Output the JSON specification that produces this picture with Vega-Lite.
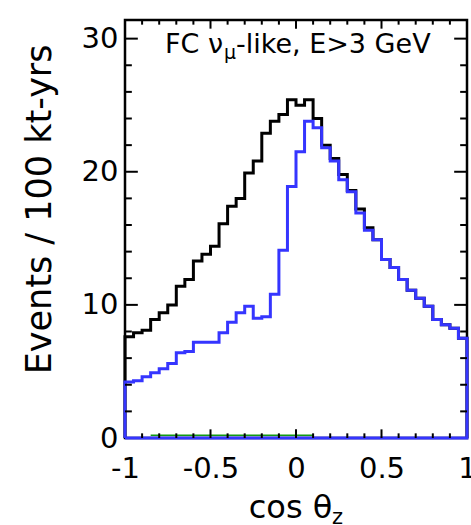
{
  "$schema": "https://vega.github.io/schema/vega-lite/v6.json",
  "width": 342,
  "height": 418,
  "autosize": "none",
  "padding": {"left": 125, "top": 20, "right": 4, "bottom": 87},
  "background": "white",
  "config": {
    "view": {"stroke": "black", "strokeWidth": 2.5},
    "font": "DejaVu Sans",
    "axis": {"grid": false, "domain": false, "ticks": false, "labelColor": "black", "titleColor": "black", "labelFont": "DejaVu Sans", "titleFont": "DejaVu Sans", "titleFontWeight": "normal", "labelOverlap": false, "labelFlush": false}
  },
  "datasets": {
    "hist": [
      {"s": "no osc", "i": 0, "x": -1, "v": 0},
      {"s": "no osc", "i": 1, "x": -1, "v": 7.6},
      {"s": "no osc", "i": 2, "x": -0.95, "v": 7.9},
      {"s": "no osc", "i": 3, "x": -0.9, "v": 8.1},
      {"s": "no osc", "i": 4, "x": -0.85, "v": 8.9},
      {"s": "no osc", "i": 5, "x": -0.8, "v": 9.4},
      {"s": "no osc", "i": 6, "x": -0.75, "v": 10.0},
      {"s": "no osc", "i": 7, "x": -0.7, "v": 11.4},
      {"s": "no osc", "i": 8, "x": -0.65, "v": 11.9},
      {"s": "no osc", "i": 9, "x": -0.6, "v": 13.3},
      {"s": "no osc", "i": 10, "x": -0.55, "v": 13.8},
      {"s": "no osc", "i": 11, "x": -0.5, "v": 14.4},
      {"s": "no osc", "i": 12, "x": -0.45, "v": 16.1},
      {"s": "no osc", "i": 13, "x": -0.4, "v": 17.4},
      {"s": "no osc", "i": 14, "x": -0.35, "v": 18.0},
      {"s": "no osc", "i": 15, "x": -0.3, "v": 19.9},
      {"s": "no osc", "i": 16, "x": -0.25, "v": 20.8},
      {"s": "no osc", "i": 17, "x": -0.2, "v": 22.9},
      {"s": "no osc", "i": 18, "x": -0.15, "v": 23.8},
      {"s": "no osc", "i": 19, "x": -0.1, "v": 24.3},
      {"s": "no osc", "i": 20, "x": -0.05, "v": 25.4},
      {"s": "no osc", "i": 21, "x": 0, "v": 25.0},
      {"s": "no osc", "i": 22, "x": 0.05, "v": 25.4},
      {"s": "no osc", "i": 23, "x": 0.1, "v": 24.0},
      {"s": "no osc", "i": 24, "x": 0.15, "v": 22.0},
      {"s": "no osc", "i": 25, "x": 0.2, "v": 21.0},
      {"s": "no osc", "i": 26, "x": 0.25, "v": 19.8},
      {"s": "no osc", "i": 27, "x": 0.3, "v": 18.6},
      {"s": "no osc", "i": 28, "x": 0.35, "v": 17.2},
      {"s": "no osc", "i": 29, "x": 0.4, "v": 15.8},
      {"s": "no osc", "i": 30, "x": 0.45, "v": 14.9},
      {"s": "no osc", "i": 31, "x": 0.5, "v": 13.4},
      {"s": "no osc", "i": 32, "x": 0.55, "v": 12.8},
      {"s": "no osc", "i": 33, "x": 0.6, "v": 11.9},
      {"s": "no osc", "i": 34, "x": 0.65, "v": 11.1},
      {"s": "no osc", "i": 35, "x": 0.7, "v": 10.5},
      {"s": "no osc", "i": 36, "x": 0.75, "v": 9.9},
      {"s": "no osc", "i": 37, "x": 0.8, "v": 8.9},
      {"s": "no osc", "i": 38, "x": 0.85, "v": 8.5},
      {"s": "no osc", "i": 39, "x": 0.9, "v": 8.25},
      {"s": "no osc", "i": 40, "x": 0.95, "v": 7.5},
      {"s": "no osc", "i": 41, "x": 1, "v": 7.5},
      {"s": "no osc", "i": 42, "x": 1, "v": 0},
      {"s": "osc", "i": 0, "x": -1, "v": 0},
      {"s": "osc", "i": 1, "x": -1, "v": 4.2},
      {"s": "osc", "i": 2, "x": -0.95, "v": 4.3},
      {"s": "osc", "i": 3, "x": -0.9, "v": 4.6},
      {"s": "osc", "i": 4, "x": -0.85, "v": 4.9},
      {"s": "osc", "i": 5, "x": -0.8, "v": 5.2},
      {"s": "osc", "i": 6, "x": -0.75, "v": 5.6},
      {"s": "osc", "i": 7, "x": -0.7, "v": 6.4},
      {"s": "osc", "i": 8, "x": -0.65, "v": 6.5},
      {"s": "osc", "i": 9, "x": -0.6, "v": 7.2},
      {"s": "osc", "i": 10, "x": -0.55, "v": 7.2},
      {"s": "osc", "i": 11, "x": -0.5, "v": 7.2},
      {"s": "osc", "i": 12, "x": -0.45, "v": 7.9},
      {"s": "osc", "i": 13, "x": -0.4, "v": 8.7},
      {"s": "osc", "i": 14, "x": -0.35, "v": 9.4},
      {"s": "osc", "i": 15, "x": -0.3, "v": 9.9},
      {"s": "osc", "i": 16, "x": -0.25, "v": 9.0},
      {"s": "osc", "i": 17, "x": -0.2, "v": 9.1},
      {"s": "osc", "i": 18, "x": -0.15, "v": 10.8},
      {"s": "osc", "i": 19, "x": -0.1, "v": 14.1},
      {"s": "osc", "i": 20, "x": -0.05, "v": 18.9},
      {"s": "osc", "i": 21, "x": 0, "v": 21.5},
      {"s": "osc", "i": 22, "x": 0.05, "v": 23.8},
      {"s": "osc", "i": 23, "x": 0.1, "v": 23.3},
      {"s": "osc", "i": 24, "x": 0.15, "v": 21.8},
      {"s": "osc", "i": 25, "x": 0.2, "v": 20.8},
      {"s": "osc", "i": 26, "x": 0.25, "v": 19.4},
      {"s": "osc", "i": 27, "x": 0.3, "v": 18.5},
      {"s": "osc", "i": 28, "x": 0.35, "v": 16.9},
      {"s": "osc", "i": 29, "x": 0.4, "v": 15.6},
      {"s": "osc", "i": 30, "x": 0.45, "v": 14.9},
      {"s": "osc", "i": 31, "x": 0.5, "v": 13.4},
      {"s": "osc", "i": 32, "x": 0.55, "v": 12.8},
      {"s": "osc", "i": 33, "x": 0.6, "v": 11.9},
      {"s": "osc", "i": 34, "x": 0.65, "v": 11.1},
      {"s": "osc", "i": 35, "x": 0.7, "v": 10.5},
      {"s": "osc", "i": 36, "x": 0.75, "v": 9.9},
      {"s": "osc", "i": 37, "x": 0.8, "v": 8.9},
      {"s": "osc", "i": 38, "x": 0.85, "v": 8.5},
      {"s": "osc", "i": 39, "x": 0.9, "v": 8.25},
      {"s": "osc", "i": 40, "x": 0.95, "v": 7.5},
      {"s": "osc", "i": 41, "x": 1, "v": 7.5},
      {"s": "osc", "i": 42, "x": 1, "v": 0},
      {"s": "osc", "i": 43, "x": -1, "v": 0},
      {"s": "other", "i": 0, "x": -0.85, "v": 0.2},
      {"s": "other", "i": 1, "x": -0.8, "v": 0.2},
      {"s": "other", "i": 2, "x": -0.75, "v": 0.2},
      {"s": "other", "i": 3, "x": -0.7, "v": 0.2},
      {"s": "other", "i": 4, "x": -0.65, "v": 0.2},
      {"s": "other", "i": 5, "x": -0.6, "v": 0.2},
      {"s": "other", "i": 6, "x": -0.55, "v": 0.2},
      {"s": "other", "i": 7, "x": -0.5, "v": 0.2},
      {"s": "other", "i": 8, "x": -0.45, "v": 0.2},
      {"s": "other", "i": 9, "x": -0.4, "v": 0.2},
      {"s": "other", "i": 10, "x": -0.35, "v": 0.2},
      {"s": "other", "i": 11, "x": -0.3, "v": 0.2},
      {"s": "other", "i": 12, "x": -0.25, "v": 0.2},
      {"s": "other", "i": 13, "x": -0.2, "v": 0.2},
      {"s": "other", "i": 14, "x": -0.15, "v": 0.2},
      {"s": "other", "i": 15, "x": -0.1, "v": 0.2},
      {"s": "other", "i": 16, "x": -0.05, "v": 0.2},
      {"s": "other", "i": 17, "x": 0, "v": 0.2},
      {"s": "other", "i": 18, "x": 0.05, "v": 0.2},
      {"s": "other", "i": 19, "x": 0.1, "v": 0.2}
    ],
    "xticks": [
      {"t": -0.9, "k": "minor"}, {"t": -0.8, "k": "minor"}, {"t": -0.7, "k": "minor"}, {"t": -0.6, "k": "minor"},
      {"t": -0.5, "k": "major"}, {"t": -0.4, "k": "minor"}, {"t": -0.3, "k": "minor"}, {"t": -0.2, "k": "minor"},
      {"t": -0.1, "k": "minor"}, {"t": 0, "k": "major"}, {"t": 0.1, "k": "minor"}, {"t": 0.2, "k": "minor"},
      {"t": 0.3, "k": "minor"}, {"t": 0.4, "k": "minor"}, {"t": 0.5, "k": "major"}, {"t": 0.6, "k": "minor"},
      {"t": 0.7, "k": "minor"}, {"t": 0.8, "k": "minor"}, {"t": 0.9, "k": "minor"}
    ],
    "yticks": [
      {"t": 2, "k": "minor"}, {"t": 4, "k": "minor"}, {"t": 6, "k": "minor"}, {"t": 8, "k": "minor"},
      {"t": 10, "k": "major"}, {"t": 12, "k": "minor"}, {"t": 14, "k": "minor"}, {"t": 16, "k": "minor"},
      {"t": 18, "k": "minor"}, {"t": 20, "k": "major"}, {"t": 22, "k": "minor"}, {"t": 24, "k": "minor"},
      {"t": 26, "k": "minor"}, {"t": 28, "k": "minor"}, {"t": 30, "k": "major"}
    ]
  },
  "data": {"name": "hist"},
  "layer": [
    {
      "transform": [{"filter": "datum.s === 'no osc'"}],
      "mark": {"type": "line", "interpolate": "step-after", "color": "black", "strokeWidth": 3},
      "encoding": {
        "x": {"field": "x", "type": "quantitative", "scale": {"domain": [-1, 1], "nice": false, "zero": false},
          "axis": {"orient": "bottom", "values": [-1, -0.5, 0, 0.5, 1], "labelFontSize": 29, "labelPadding": 16,
            "labelExpr": "replace(format(datum.value, ''), '\u2212', '-')",
            "title": "cos θ", "titleFontSize": 32, "titleX": 165, "titleY": 79, "titleBaseline": "alphabetic", "titleAlign": "center"}},
        "y": {"field": "v", "type": "quantitative", "scale": {"domain": [0, 31.4], "nice": false, "zero": false},
          "axis": {"orient": "left", "values": [0, 10, 20, 30], "labelFontSize": 29, "labelPadding": 7,
            "title": "Events / 100 kt-yrs", "titleFontSize": 35, "titleAngle": -90, "titleX": -75, "titleY": 24, "titleAlign": "right", "titleBaseline": "alphabetic"}},
        "order": {"field": "i", "type": "quantitative"}
      }
    },
    {
      "transform": [{"filter": "datum.s === 'other'"}],
      "mark": {"type": "line", "interpolate": "step-after", "color": "#139a13", "strokeWidth": 1.5},
      "encoding": {
        "x": {"field": "x", "type": "quantitative"},
        "y": {"field": "v", "type": "quantitative"},
        "order": {"field": "i", "type": "quantitative"}
      }
    },
    {
      "transform": [{"filter": "datum.s === 'osc'"}],
      "mark": {"type": "line", "interpolate": "step-after", "color": "#3535ff", "strokeWidth": 3},
      "encoding": {
        "x": {"field": "x", "type": "quantitative"},
        "y": {"field": "v", "type": "quantitative"},
        "order": {"field": "i", "type": "quantitative"}
      }
    },
    {
      "data": {"name": "xticks"},
      "transform": [{"filter": "datum.k === 'major'"}],
      "mark": {"type": "rule", "color": "black", "strokeWidth": 2},
      "encoding": {"x": {"field": "t", "type": "quantitative"}, "y": {"datum": 0}, "y2": {"datum": 0.65}}
    },
    {
      "data": {"name": "xticks"},
      "transform": [{"filter": "datum.k === 'minor'"}],
      "mark": {"type": "rule", "color": "black", "strokeWidth": 2},
      "encoding": {"x": {"field": "t", "type": "quantitative"}, "y": {"datum": 0}, "y2": {"datum": 0.35}}
    },
    {
      "data": {"name": "xticks"},
      "transform": [{"filter": "datum.k === 'major'"}],
      "mark": {"type": "rule", "color": "black", "strokeWidth": 2},
      "encoding": {"x": {"field": "t", "type": "quantitative"}, "y": {"datum": 31.4}, "y2": {"datum": 30.75}}
    },
    {
      "data": {"name": "xticks"},
      "transform": [{"filter": "datum.k === 'minor'"}],
      "mark": {"type": "rule", "color": "black", "strokeWidth": 2},
      "encoding": {"x": {"field": "t", "type": "quantitative"}, "y": {"datum": 31.4}, "y2": {"datum": 31.05}}
    },
    {
      "data": {"name": "yticks"},
      "transform": [{"filter": "datum.k === 'major'"}],
      "mark": {"type": "rule", "color": "black", "strokeWidth": 2},
      "encoding": {"y": {"field": "t", "type": "quantitative"}, "x": {"datum": -1}, "x2": {"datum": -0.925}}
    },
    {
      "data": {"name": "yticks"},
      "transform": [{"filter": "datum.k === 'minor'"}],
      "mark": {"type": "rule", "color": "black", "strokeWidth": 2},
      "encoding": {"y": {"field": "t", "type": "quantitative"}, "x": {"datum": -1}, "x2": {"datum": -0.96}}
    },
    {
      "data": {"name": "yticks"},
      "transform": [{"filter": "datum.k === 'major'"}],
      "mark": {"type": "rule", "color": "black", "strokeWidth": 2},
      "encoding": {"y": {"field": "t", "type": "quantitative"}, "x": {"datum": 1}, "x2": {"datum": 0.925}}
    },
    {
      "data": {"name": "yticks"},
      "transform": [{"filter": "datum.k === 'minor'"}],
      "mark": {"type": "rule", "color": "black", "strokeWidth": 2},
      "encoding": {"y": {"field": "t", "type": "quantitative"}, "x": {"datum": 1}, "x2": {"datum": 0.96}}
    },
    {
      "data": {"values": [{}]},
      "mark": {"type": "text", "text": "FC ν", "align": "left", "baseline": "alphabetic", "fontSize": 27, "font": "DejaVu Sans", "color": "black"},
      "encoding": {"x": {"datum": -0.766, "type": "quantitative"}, "y": {"datum": 28.9, "type": "quantitative"}}
    },
    {
      "data": {"values": [{}]},
      "mark": {"type": "text", "text": "μ", "align": "left", "baseline": "alphabetic", "fontSize": 19, "font": "DejaVu Sans", "color": "black"},
      "encoding": {"x": {"datum": -0.421, "type": "quantitative"}, "y": {"datum": 28.45, "type": "quantitative"}}
    },
    {
      "data": {"values": [{}]},
      "mark": {"type": "text", "text": "-like, E>3 GeV", "align": "left", "baseline": "alphabetic", "fontSize": 27, "font": "DejaVu Sans", "color": "black"},
      "encoding": {"x": {"datum": -0.351, "type": "quantitative"}, "y": {"datum": 28.9, "type": "quantitative"}}
    },
    {
      "data": {"values": [{}]},
      "mark": {"type": "text", "text": "z", "align": "left", "baseline": "alphabetic", "fontSize": 21, "font": "DejaVu Sans", "color": "black"},
      "encoding": {"x": {"datum": 0.21, "type": "quantitative"}, "y": {"datum": -6.47, "type": "quantitative"}}
    }
  ]
}
